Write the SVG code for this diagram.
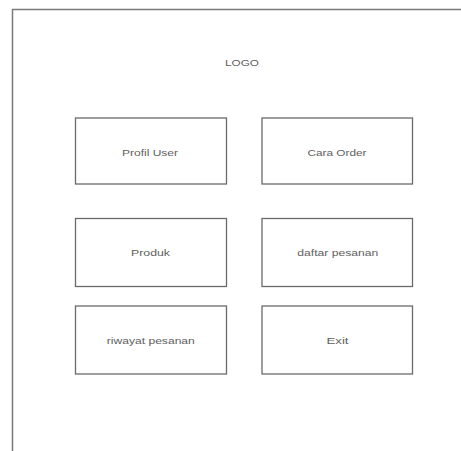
<svg xmlns="http://www.w3.org/2000/svg" width="461" height="451" viewBox="0 0 461 451">
  <style>
    .frame { fill: none; stroke: #7a7a7a; stroke-width: 1.5; }
    .btn rect { fill: #ffffff; stroke: #6a6a6a; stroke-width: 1.3; }
    .lbl { font-family: "Liberation Sans", Arial, sans-serif; font-size: 9.3px; fill: #606060; text-anchor: middle; }
  </style>
  <rect width="461" height="451" fill="#ffffff"/>
  <!-- page frame: top and left edges -->
  <path class="frame" d="M12.5 451 V9.5 H461"/>
  <g id="logo"><text class="lbl" x="242" y="66" textLength="34" lengthAdjust="spacingAndGlyphs">LOGO</text></g>
  <g id="profil-user" class="btn"><rect x="75.5" y="118" width="151" height="66"/><text class="lbl" x="150" y="156" textLength="56" lengthAdjust="spacingAndGlyphs">Profil User</text></g>
  <g id="cara-order" class="btn"><rect x="262" y="118" width="150.5" height="66"/><text class="lbl" x="337" y="156" textLength="59" lengthAdjust="spacingAndGlyphs">Cara Order</text></g>
  <g id="produk" class="btn"><rect x="75.5" y="218.5" width="151" height="68"/><text class="lbl" x="150.5" y="256" textLength="39" lengthAdjust="spacingAndGlyphs">Produk</text></g>
  <g id="daftar-pesanan" class="btn"><rect x="262" y="218.5" width="150.5" height="68"/><text class="lbl" x="337.8" y="256" textLength="81" lengthAdjust="spacingAndGlyphs">daftar pesanan</text></g>
  <g id="riwayat-pesanan" class="btn"><rect x="75.5" y="306" width="151" height="68"/><text class="lbl" x="150.8" y="344" textLength="88" lengthAdjust="spacingAndGlyphs">riwayat pesanan</text></g>
  <g id="exit" class="btn"><rect x="262" y="306" width="150.5" height="68"/><text class="lbl" x="337.5" y="344" textLength="22" lengthAdjust="spacingAndGlyphs">Exit</text></g>
  <g id="connectors"/>
</svg>
